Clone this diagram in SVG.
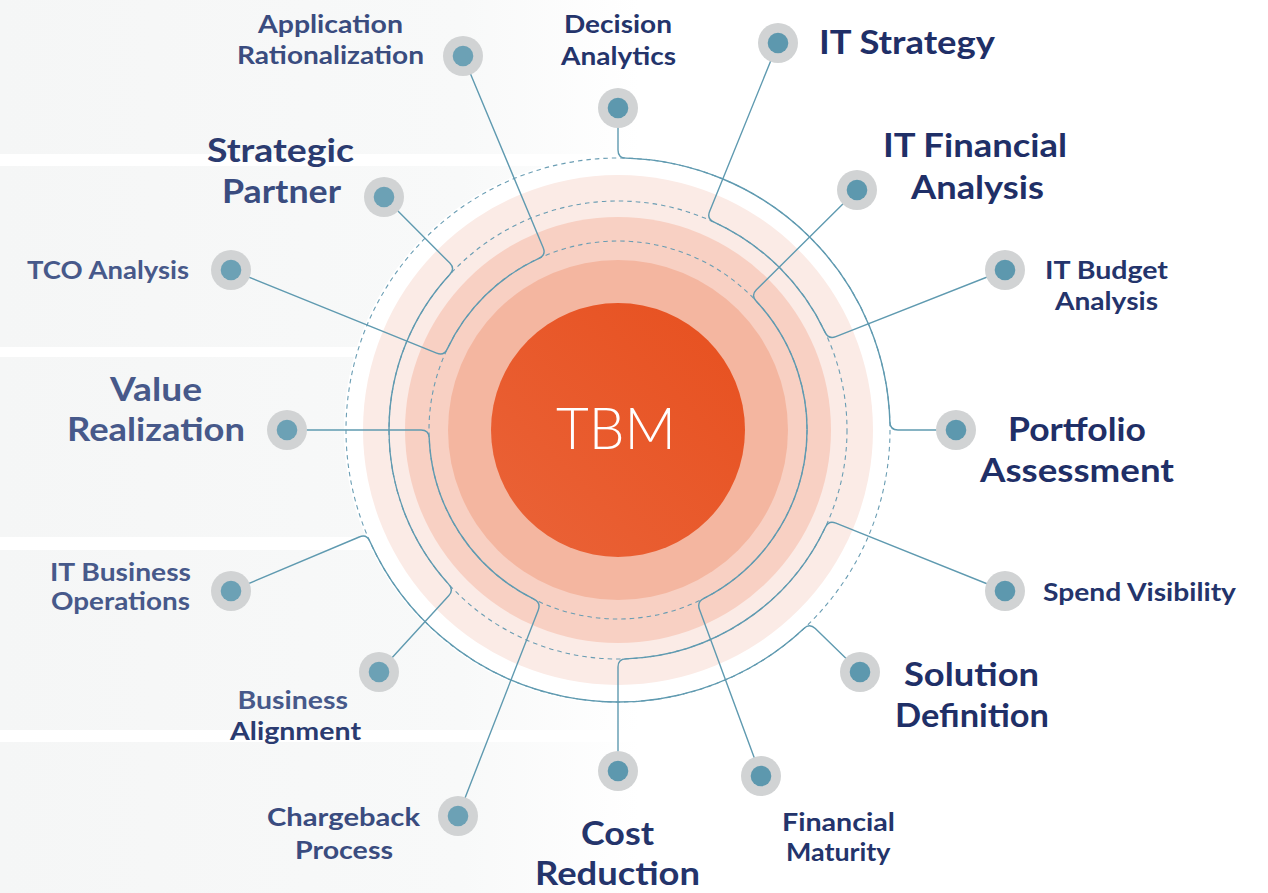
<svg xmlns="http://www.w3.org/2000/svg" width="1268" height="893" viewBox="0 0 1268 893">
<defs>
<linearGradient id="band" x1="0" y1="0" x2="640" y2="0" gradientUnits="userSpaceOnUse">
<stop offset="0" stop-color="#F5F6F6"/>
<stop offset="0.72" stop-color="#F8F9F9"/>
<stop offset="1" stop-color="#FFFFFF"/>
</linearGradient>
<linearGradient id="core" x1="0" y1="1" x2="1" y2="0">
<stop offset="0" stop-color="#EA6338"/>
<stop offset="1" stop-color="#E7501F"/>
</linearGradient>
<style>
.lbl{font-family:Lato,"Open Sans","Liberation Sans",sans-serif;font-weight:700}
.s{font-size:24.5px}
.b{font-size:32.5px}
.n1{fill:#1F2F67}
.n2{fill:#24346B}
.n3{fill:#2B3B70}
.n4{fill:#3A4C7F}
.n5{fill:#47598A}
.halo{fill:#D1D3D4}
.dl{fill:#6CA1B5}
.dr{fill:#5D98AE}
.conn{fill:none;stroke:#5F9AB0;stroke-width:1.4;stroke-linejoin:round}
.dash{fill:none;stroke:#6A9DB3;stroke-width:1.1;stroke-dasharray:4.5 4}
</style>
</defs>
<rect width="1268" height="893" fill="#FFFFFF"/>
<g id="bands" fill="url(#band)">
<rect x="0" y="0" width="640" height="154"/>
<rect x="0" y="166" width="640" height="181"/>
<rect x="0" y="357" width="640" height="180"/>
<rect x="0" y="550" width="640" height="180"/>
<rect x="0" y="742" width="640" height="151"/>
</g>
<g id="rings">
<circle cx="618" cy="430" r="274" fill="#FFFFFF"/>
<circle cx="618" cy="430" r="255" fill="#FBEBE6"/>
<circle cx="618" cy="430" r="213" fill="#F8D0C3"/>
<circle cx="618" cy="430" r="170" fill="#F4B6A0"/>
</g>
<g id="dashed-circles">
<circle class="dash" cx="618" cy="430" r="272"/>
<circle class="dash" cx="618" cy="430" r="229"/>
<circle class="dash" cx="618" cy="430" r="189"/>
</g>
<g id="connectors">
<path class="conn" d="M231,270 L436.6,353.2 Q444,356.2 447.3,348.9 A189,189 0 0 1 538.9,258.3 Q546.3,255.1 543.2,247.7 L463,56"/>
<path class="conn" d="M384,197 L449.8,263.1 Q455.4,268.8 449.8,274.6 A229,229 0 0 0 448.6,584.1 Q454.1,589.9 448.7,595.8 L379,672"/>
<path class="conn" d="M287,430 L421,430 Q429,430 429.2,438 A189,189 0 0 0 533.9,599.2 Q541.1,602.7 538.2,610.2 L458,816"/>
<path class="conn" d="M231,591 L359.2,537 Q366.6,533.9 369.8,541.2 A272,272 0 0 0 803.9,628.5 Q809.6,623 815.3,628.6 L860,672"/>
<path class="conn" d="M618,771 L618,667 Q618,659 626,658.9 A229,229 0 0 0 825.2,527.5 Q828.5,520.2 835.9,523.2 L1005,591"/>
<path class="conn" d="M761,776 L699.5,609.4 Q696.7,601.9 703.9,598.4 A189,189 0 0 0 756.3,301.2 Q750.7,295.4 756.4,289.8 L857,190"/>
<path class="conn" d="M778,43 L709.6,211.5 Q706.6,218.9 714.1,222.1 A229,229 0 0 1 825,332.1 Q828.4,339.5 835.8,336.6 L1005,270"/>
<path class="conn" d="M618,108 L618,150 Q618,158 626,158.1 A272,272 0 0 1 889.9,422 Q890,430 898,430 L956,430"/>
</g>
<g id="tbm">
<circle cx="618" cy="430" r="127" fill="url(#core)"/>
<text x="556" y="449" font-family="Lato,'Open Sans','Liberation Sans',sans-serif" font-weight="300" font-size="57" fill="#FFFFFF" textLength="120" lengthAdjust="spacingAndGlyphs">TBM</text>
</g>
<g id="node-application-rationalization">
<circle class="halo" cx="463" cy="56" r="20"/><circle class="dl" cx="463" cy="56" r="10.3"/>
<text class="lbl s n4" x="258" y="32.5" textLength="145" lengthAdjust="spacingAndGlyphs">Application</text>
<text class="lbl s n4" x="237" y="63.5" textLength="187" lengthAdjust="spacingAndGlyphs">Rationalization</text>
</g>
<g id="node-decision-analytics">
<circle class="halo" cx="618" cy="108" r="20"/><circle class="dr" cx="618" cy="108" r="10.3"/>
<text class="lbl s n2" x="564" y="33" textLength="108" lengthAdjust="spacingAndGlyphs">Decision</text>
<text class="lbl s n2" x="561" y="64.5" textLength="115" lengthAdjust="spacingAndGlyphs">Analytics</text>
</g>
<g id="node-it-strategy">
<circle class="halo" cx="778" cy="43" r="20"/><circle class="dr" cx="778" cy="43" r="10.3"/>
<text class="lbl b n1" x="819" y="54" textLength="176" lengthAdjust="spacingAndGlyphs">IT Strategy</text>
</g>
<g id="node-it-financial-analysis">
<circle class="halo" cx="857" cy="190" r="20"/><circle class="dr" cx="857" cy="190" r="10.3"/>
<text class="lbl b n1" x="883" y="157" textLength="184" lengthAdjust="spacingAndGlyphs">IT Financial</text>
<text class="lbl b n1" x="911" y="198.5" textLength="133" lengthAdjust="spacingAndGlyphs">Analysis</text>
</g>
<g id="node-it-budget-analysis">
<circle class="halo" cx="1005" cy="270" r="20"/><circle class="dr" cx="1005" cy="270" r="10.3"/>
<text class="lbl s n2" x="1045" y="278.5" textLength="123" lengthAdjust="spacingAndGlyphs">IT Budget</text>
<text class="lbl s n2" x="1055" y="309.5" textLength="103" lengthAdjust="spacingAndGlyphs">Analysis</text>
</g>
<g id="node-strategic-partner">
<circle class="halo" cx="384" cy="197" r="20"/><circle class="dl" cx="384" cy="197" r="10.3"/>
<text class="lbl b n3" x="207" y="162" textLength="147" lengthAdjust="spacingAndGlyphs">Strategic</text>
<text class="lbl b n4" x="222" y="203" textLength="119" lengthAdjust="spacingAndGlyphs">Partner</text>
</g>
<g id="node-tco-analysis">
<circle class="halo" cx="231" cy="270" r="20"/><circle class="dl" cx="231" cy="270" r="10.3"/>
<text class="lbl s n5" x="27" y="278.5" textLength="162" lengthAdjust="spacingAndGlyphs">TCO Analysis</text>
</g>
<g id="node-value-realization">
<circle class="halo" cx="287" cy="430" r="20"/><circle class="dl" cx="287" cy="430" r="10.3"/>
<text class="lbl b n5" x="110" y="400.5" textLength="92" lengthAdjust="spacingAndGlyphs">Value</text>
<text class="lbl b n5" x="67" y="441" textLength="178" lengthAdjust="spacingAndGlyphs">Realization</text>
</g>
<g id="node-portfolio-assessment">
<circle class="halo" cx="956" cy="430" r="20"/><circle class="dr" cx="956" cy="430" r="10.3"/>
<text class="lbl b n1" x="1008" y="441" textLength="138" lengthAdjust="spacingAndGlyphs">Portfolio</text>
<text class="lbl b n1" x="980" y="482" textLength="194" lengthAdjust="spacingAndGlyphs">Assessment</text>
</g>
<g id="node-it-business-operations">
<circle class="halo" cx="231" cy="591" r="20"/><circle class="dl" cx="231" cy="591" r="10.3"/>
<text class="lbl s n5" x="50" y="581" textLength="141" lengthAdjust="spacingAndGlyphs">IT Business</text>
<text class="lbl s n5" x="51" y="610" textLength="139" lengthAdjust="spacingAndGlyphs">Operations</text>
</g>
<g id="node-spend-visibility">
<circle class="halo" cx="1005" cy="591" r="20"/><circle class="dr" cx="1005" cy="591" r="10.3"/>
<text class="lbl s n2" x="1043" y="600.5" textLength="193" lengthAdjust="spacingAndGlyphs">Spend Visibility</text>
</g>
<g id="node-business-alignment">
<circle class="halo" cx="379" cy="672" r="20"/><circle class="dl" cx="379" cy="672" r="10.3"/>
<text class="lbl s n5" x="237.5" y="708.5" textLength="110.5" lengthAdjust="spacingAndGlyphs">Business</text>
<text class="lbl s n3" x="230" y="740" textLength="131" lengthAdjust="spacingAndGlyphs">Alignment</text>
</g>
<g id="node-solution-definition">
<circle class="halo" cx="860" cy="672" r="20"/><circle class="dr" cx="860" cy="672" r="10.3"/>
<text class="lbl b n1" x="904" y="686" textLength="135" lengthAdjust="spacingAndGlyphs">Solution</text>
<text class="lbl b n1" x="895" y="727" textLength="154" lengthAdjust="spacingAndGlyphs">Definition</text>
</g>
<g id="node-chargeback-process">
<circle class="halo" cx="458" cy="816" r="20"/><circle class="dl" cx="458" cy="816" r="10.3"/>
<text class="lbl s n4" x="267" y="826" textLength="153" lengthAdjust="spacingAndGlyphs">Chargeback</text>
<text class="lbl s n4" x="295" y="858.5" textLength="98" lengthAdjust="spacingAndGlyphs">Process</text>
</g>
<g id="node-cost-reduction">
<circle class="halo" cx="618" cy="771" r="20"/><circle class="dr" cx="618" cy="771" r="10.3"/>
<text class="lbl b n2" x="581" y="844.5" textLength="73" lengthAdjust="spacingAndGlyphs">Cost</text>
<text class="lbl b n2" x="535" y="885" textLength="165" lengthAdjust="spacingAndGlyphs">Reduction</text>
</g>
<g id="node-financial-maturity">
<circle class="halo" cx="761" cy="776" r="20"/><circle class="dr" cx="761" cy="776" r="10.3"/>
<text class="lbl s n2" x="782" y="830.5" textLength="113" lengthAdjust="spacingAndGlyphs">Financial</text>
<text class="lbl s n2" x="786" y="860.5" textLength="104.5" lengthAdjust="spacingAndGlyphs">Maturity</text>
</g>
</svg>
